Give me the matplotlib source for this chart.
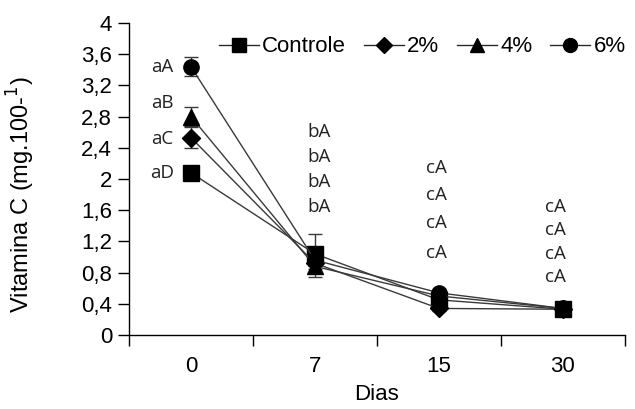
import matplotlib.pyplot as plt
from matplotlib.lines import Line2D
import numpy as np

plt.rcParams['font.family'] = ['Liberation Sans', 'DejaVu Sans']

dias = ["0", "7", "15", "30"]
series_names = ["Controle", "2%", "4%", "6%"]
markers = ['s', 'D', '^', 'o']
marker_sizes = [11, 9, 11, 11]

# vitamina C (mg.100-1) per day, one list per treatment
controle = [2.08, 1.04, 0.45, 0.33]
pct2 = [2.53, 0.92, 0.34, 0.33]
pct4 = [2.80, 0.88, 0.50, 0.34]
pct6 = [3.44, 0.96, 0.54, 0.34]

err_controle = [0.03, 0.25, 0.04, 0.06]
err_pct2 = [0.13, 0.08, 0.03, 0.03]
err_pct4 = [0.12, 0.14, 0.04, 0.03]
err_pct6 = [0.12, 0.08, 0.04, 0.03]

# significance letters, top to bottom for each day
letters = [["aA", "aB", "aC", "aD"],
           ["bA", "bA", "bA", "bA"],
           ["cA", "cA", "cA", "cA"],
           ["cA", "cA", "cA", "cA"]]
letter_x = [-0.23, 1.03, 1.98, 2.94]
letter_y = [[3.44, 2.97, 2.51, 2.08],
            [2.60, 2.28, 1.96, 1.64],
            [2.14, 1.79, 1.44, 1.05],
            [1.64, 1.35, 1.04, 0.74]]

values = [controle, pct2, pct4, pct6]
errors = [err_controle, err_pct2, err_pct4, err_pct6]

fig = plt.figure(figsize=(6.35, 4.09), dpi=100)
ax = fig.add_axes([0.203, 0.181, 0.781, 0.763])

x = np.arange(len(dias))
handles = []
for vals, errs, name, m, ms in zip(values, errors, series_names, markers, marker_sizes):
    ax.errorbar(x, vals, yerr=errs, color='#3a3a3a', lw=1, marker=m, ms=ms,
                mfc='black', mec='black', ecolor='#3a3a3a', elinewidth=1,
                capsize=5, capthick=1)
    handles.append(Line2D([], [], color='#2a2a2a', lw=1, marker=m, ms=ms - 1,
                          mfc='black', mec='black', label=name))

for i in range(len(dias)):
    for txt, yy in zip(letters[i], letter_y[i]):
        ax.text(letter_x[i], yy, txt, fontsize=13.5, ha='center', va='center',
                family=['Open Sans', 'DejaVu Sans'], color='#222222')

ax.set_xlim(-0.5, 3.5)
ax.set_ylim(0, 4)
ax.set_yticks(np.arange(0, 4.01, 0.4))
ax.set_yticklabels(['0'] + [('%.1f' % v).replace('.', ',').replace(',0', '') for v in np.arange(0.4, 4.01, 0.4)])
ax.set_xticks(np.arange(-0.5, 3.6, 1))
ax.set_xticklabels([])
ax.set_xticks(x, minor=True)
ax.set_xticklabels(dias, minor=True)
ax.tick_params(axis='x', which='minor', length=0, pad=15, labelsize=16)
ax.tick_params(axis='x', which='major', length=8, direction='out', width=1)
ax.tick_params(axis='y', length=8, direction='out', labelsize=16, pad=4, width=1)

for s in ['top', 'right']:
    ax.spines[s].set_visible(False)
for s in ['left', 'bottom']:
    ax.spines[s].set_linewidth(1)

ax.set_xlabel("Dias", fontsize=16, labelpad=5)
ax.set_ylabel("Vitamina C (mg.100-$^1$)", fontsize=17)
ax.yaxis.set_label_coords(-0.185, 0.45)

ax.legend(handles=handles, loc='upper right', bbox_to_anchor=(1.02, 0.985), ncol=4,
          frameon=False, fontsize=16, handlelength=1.8, handletextpad=0.15,
          columnspacing=0.8, borderaxespad=0)

fig.savefig('out.png', dpi=100)
